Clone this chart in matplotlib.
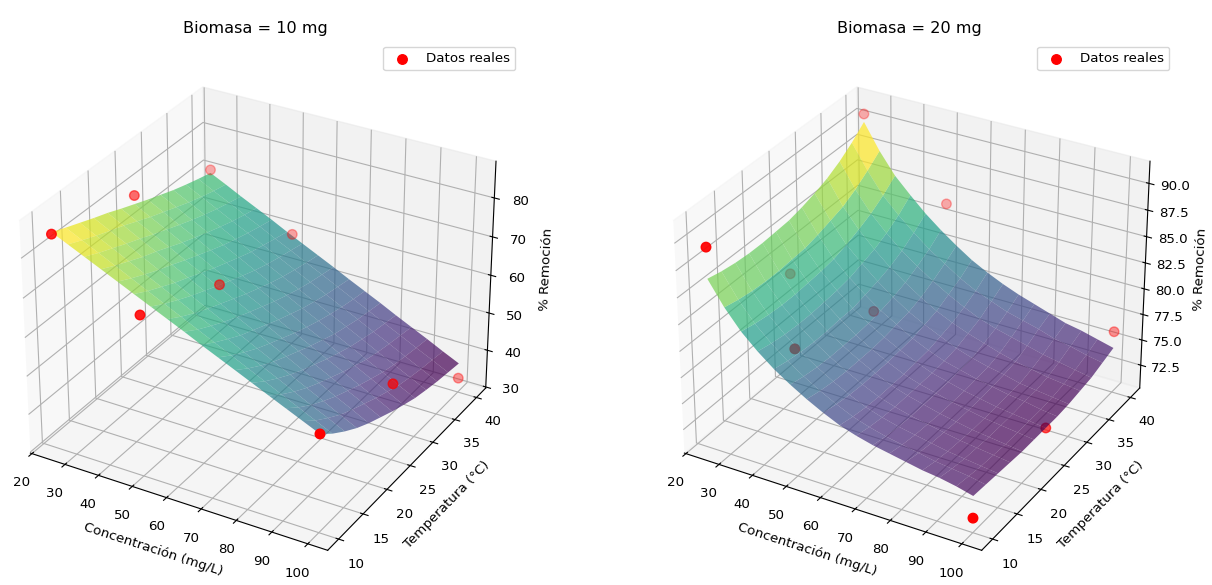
import numpy as np
import matplotlib
matplotlib.use("Agg")
import matplotlib.pyplot as plt

plt.rcParams["font.size"] = 9.66

conc_grid = [25, 29.7, 34.4, 39.1, 43.75, 48.4, 53.1, 57.8, 62.5, 67.2, 71.9, 76.6, 81.25, 85.9, 90.6, 95.3, 100]
temp_grid = [10, 12.5, 15, 17.5, 20, 22.5, 25, 27.5, 30, 32.5, 35, 37.5, 40]
# % removal surface, rows = temperature, columns = concentration
z10 = [
    [85.5, 83.6, 81.7, 79.8, 77.9, 76.0, 74.1, 72.2, 70.3, 68.3, 66.4, 64.5, 62.6, 60.7, 58.8, 56.9, 55.0],
    [84.0, 82.0, 80.0, 78.0, 76.0, 74.0, 72.0, 70.0, 68.0, 66.0, 64.0, 62.0, 60.0, 58.0, 56.0, 54.0, 52.0],
    [82.6, 80.5, 78.5, 76.4, 74.3, 72.3, 70.2, 68.1, 66.1, 64.0, 61.9, 59.8, 57.8, 55.7, 53.6, 51.6, 49.5],
    [81.2, 79.1, 77.0, 74.8, 72.7, 70.6, 68.5, 66.4, 64.3, 62.1, 60.0, 57.9, 55.8, 53.7, 51.6, 49.4, 47.3],
    [79.9, 77.8, 75.6, 73.5, 71.3, 69.2, 67.0, 64.9, 62.7, 60.6, 58.4, 56.3, 54.1, 52.0, 49.8, 47.7, 45.5],
    [78.4, 76.3, 74.1, 72.0, 69.8, 67.7, 65.5, 63.4, 61.2, 59.1, 56.9, 54.8, 52.6, 50.5, 48.3, 46.2, 44.0],
    [77.0, 74.8, 72.7, 70.5, 68.4, 66.2, 64.1, 61.9, 59.8, 57.6, 55.4, 53.3, 51.1, 49.0, 46.8, 44.7, 42.5],
    [75.6, 73.5, 71.3, 69.2, 67.0, 64.9, 62.7, 60.6, 58.4, 56.3, 54.1, 52.0, 49.8, 47.7, 45.5, 43.4, 41.2],
    [74.3, 72.2, 70.0, 67.9, 65.7, 63.6, 61.4, 59.3, 57.2, 55.0, 52.9, 50.7, 48.6, 46.4, 44.3, 42.1, 40.0],
    [73.0, 70.9, 68.8, 66.7, 64.6, 62.4, 60.3, 58.2, 56.1, 54.0, 51.9, 49.8, 47.7, 45.5, 43.4, 41.3, 39.2],
    [71.9, 69.8, 67.7, 65.6, 63.6, 61.5, 59.4, 57.3, 55.2, 53.1, 51.0, 48.9, 46.8, 44.8, 42.7, 40.6, 38.5],
    [70.9, 68.8, 66.8, 64.7, 62.7, 60.6, 58.6, 56.5, 54.5, 52.4, 50.3, 48.3, 46.2, 44.2, 42.1, 40.1, 38.0],
    [70.0, 68.0, 65.9, 63.9, 61.9, 59.8, 57.8, 55.8, 53.8, 51.7, 49.7, 47.7, 45.6, 43.6, 41.6, 39.5, 37.5],
]
z20 = [
    [86.4, 84.2, 82.4, 81.0, 79.8, 78.8, 77.9, 77.1, 76.4, 75.9, 75.5, 75.2, 74.9, 74.6, 74.4, 74.1, 73.7],
    [86.1, 83.9, 82.1, 80.7, 79.5, 78.5, 77.6, 76.8, 76.1, 75.6, 75.2, 74.9, 74.6, 74.3, 74.1, 73.9, 73.6],
    [85.9, 83.7, 81.9, 80.5, 79.3, 78.3, 77.4, 76.6, 75.9, 75.4, 75.0, 74.7, 74.4, 74.1, 73.9, 73.7, 73.5],
    [85.8, 83.6, 81.8, 80.4, 79.2, 78.2, 77.3, 76.5, 75.8, 75.3, 74.9, 74.6, 74.3, 74.0, 73.8, 73.6, 73.4],
    [85.8, 83.6, 81.8, 80.4, 79.2, 78.2, 77.3, 76.5, 75.8, 75.3, 74.9, 74.5, 74.2, 73.9, 73.7, 73.5, 73.3],
    [85.9, 83.7, 81.9, 80.5, 79.3, 78.2, 77.3, 76.5, 75.8, 75.3, 74.9, 74.5, 74.2, 73.9, 73.7, 73.5, 73.3],
    [86.0, 83.8, 82.0, 80.6, 79.3, 78.3, 77.4, 76.6, 75.9, 75.3, 74.9, 74.5, 74.2, 73.9, 73.7, 73.5, 73.3],
    [86.3, 84.1, 82.2, 80.8, 79.6, 78.5, 77.6, 76.7, 76.0, 75.4, 75.0, 74.6, 74.3, 74.0, 73.8, 73.5, 73.3],
    [86.7, 84.5, 82.6, 81.2, 79.9, 78.8, 77.8, 77.0, 76.3, 75.6, 75.1, 74.7, 74.4, 74.0, 73.8, 73.6, 73.4],
    [87.2, 84.9, 83.1, 81.6, 80.3, 79.2, 78.2, 77.3, 76.6, 76.0, 75.5, 75.0, 74.6, 74.3, 74.0, 73.8, 73.6],
    [87.9, 85.6, 83.7, 82.2, 80.9, 79.8, 78.8, 77.9, 77.1, 76.4, 75.9, 75.5, 75.1, 74.7, 74.4, 74.1, 73.8],
    [88.8, 86.5, 84.5, 83.0, 81.7, 80.5, 79.5, 78.5, 77.7, 77.1, 76.5, 76.1, 75.7, 75.2, 74.9, 74.5, 74.2],
    [89.9, 87.5, 85.5, 84.0, 82.6, 81.4, 80.3, 79.3, 78.5, 77.8, 77.2, 76.7, 76.2, 75.7, 75.4, 75.0, 74.6],
]
point_conc = [25, 25, 25, 50, 50, 50, 100, 100, 100]
point_temp = [10, 25, 40, 10, 25, 40, 10, 25, 40]
point_z10 = [85.0, 79.2, 70.8, 71.2, 62.3, 59.5, 55.0, 49.7, 33.5]
point_z20 = [89.3, 80.9, 90.66, 82.3, 79.6, 84.1, 71.6, 73.3, 76.2]

panels = [
    ("Biomasa = 10 mg", z10, point_z10, -12, 522),
    ("Biomasa = 20 mg", z20, point_z20, 642, 1176),
]

W, H = 1212, 585
side, top = 534, 48
fig = plt.figure(figsize=(W / 100, H / 100), dpi=100)
for title, zg, pz, l, legx in panels:
    ax = fig.add_axes([l / W, 1 - (top + side) / H, side / W, side / H], projection="3d")
    ax.set_box_aspect((4, 4, 3.11))
    X, Y = np.meshgrid(conc_grid, temp_grid)
    ax.plot_surface(X, Y, np.array(zg, float), cmap="viridis", alpha=0.7,
                    rstride=1, cstride=1, linewidth=0)
    ax.scatter(point_conc, point_temp, pz, color="red", s=47, label="Datos reales")
    ax.set_xlabel("Concentración (mg/L)")
    ax.set_ylabel("Temperatura (°C)")
    ax.set_zlabel("% Remoción")
    ax.set_title(title, pad=11)
    ax.legend(loc="upper right", bbox_to_anchor=(legx / W, 1 - 40 / H),
              bbox_transform=fig.transFigure)
fig.savefig("out.png", dpi=100)
